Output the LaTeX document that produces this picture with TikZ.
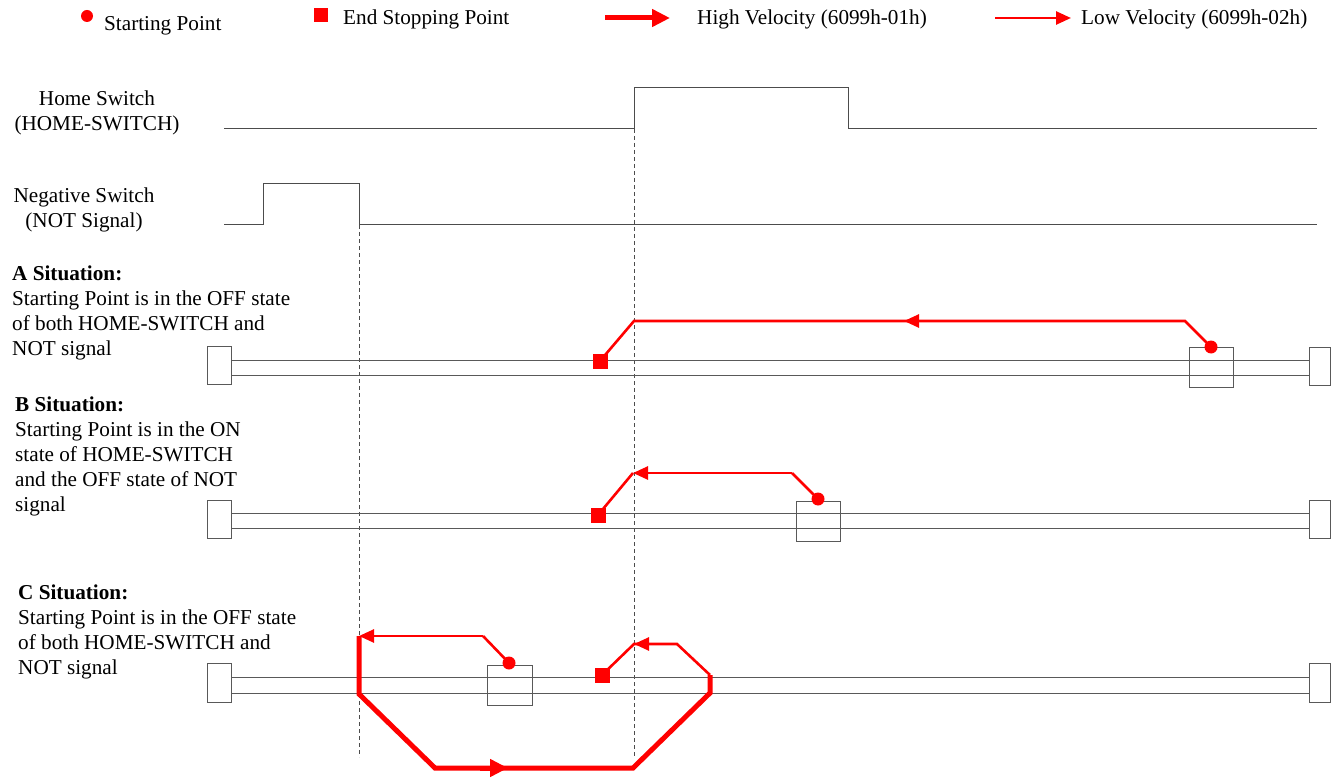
\documentclass[tikz,border=0pt]{standalone}
\usepackage{fontspec}
\setmainfont{Liberation Serif}
\usetikzlibrary{arrows.meta}
\begin{document}
\begin{tikzpicture}[x=1pt,y=-1pt,
  txt/.style={font=\fontsize{21.2}{25}\selectfont, inner sep=0pt, anchor=base west, align=left},
  lbl/.style={font=\fontsize{21.2}{25.5}\selectfont, inner sep=0pt, align=center},
  sig/.style={draw=black!70, line width=1pt},
  rail/.style={draw=black!65, line width=1pt},
  railbox/.style={draw=black!65, line width=1pt, fill=white},
  guide/.style={draw=black!70, line width=0.8pt, dash pattern=on 4pt off 3pt},
  low/.style={draw=red, line width=2.6pt},
  high/.style={draw=red, line width=5pt},
  lowtip/.style={-{Triangle[length=15pt,width=13pt]}},
  hightip/.style={-{Triangle[length=18pt,width=17pt]}},
  startdot/.style={circle, fill=red, inner sep=0pt, minimum size=13pt},
  endsq/.style={rectangle, fill=red, inner sep=0pt, minimum size=15pt},
]
\useasboundingbox (0,0) rectangle (1341,778);

% ---------- legend ----------
\node[startdot, minimum size=12pt] (lgdot) at (87,16) {};
\node[txt] (lgdott) at (104,31) {Starting Point};
\node[endsq, minimum size=14pt] (lgsq) at (321,15) {};
\node[txt] (lgsqt) at (343,25) {End Stopping Point};
\coordinate (lgh1) at (605,18); \coordinate (lgh2) at (670,18);
\draw[high,hightip] (lgh1) -- (lgh2);
\node[txt] (lght) at (697,25) {High Velocity (6099h-01h)};
\coordinate (lgl1) at (995,18); \coordinate (lgl2) at (1071,18);
\draw[low,lowtip] (lgl1) -- (lgl2);
\node[txt] (lglt) at (1081,25) {Low Velocity (6099h-02h)};

% ---------- signals ----------
\node[lbl] (homel) at (97,113) {Home Switch\\(HOME-SWITCH)};
\coordinate (h0) at (224,129); \coordinate (h1) at (634,129); \coordinate (h2) at (634,88);
\coordinate (h3) at (848,88); \coordinate (h4) at (848,129); \coordinate (h5) at (1317,129);
\draw[sig] (h0) -- (h1) -- (h2) -- (h3) -- (h4) -- (h5);

\node[lbl] (negl) at (84,210) {Negative Switch\\(NOT Signal)};
\coordinate (n0) at (224,225); \coordinate (n1) at (263,225); \coordinate (n2) at (263,184);
\coordinate (n3) at (359,184); \coordinate (n4) at (359,225); \coordinate (n5) at (1317,225);
\draw[sig] (n0) -- (n1) -- (n2) -- (n3) -- (n4) -- (n5);

% ---------- guides ----------
\coordinate (g1b) at (359,757); \coordinate (g2b) at (634,757);
\draw[guide] (n4) -- (g1b);
\draw[guide] (h1) -- (g2b);

% ---------- A situation ----------
\node[txt] (At) at (12,355) {\textbf{A Situation:}\\Starting Point is in the OFF state\\of both HOME-SWITCH and\\NOT signal};
\coordinate (Ar1a) at (231,360); \coordinate (Ar1b) at (1309,360);
\coordinate (Ar2a) at (231,375); \coordinate (Ar2b) at (1309,375);
\draw[rail] (Ar1a) -- (Ar1b); \draw[rail] (Ar2a) -- (Ar2b);
\draw[railbox] (207,346) rectangle (231,384);
\draw[railbox] (1309,347) rectangle (1330,385);
\draw[rail] (1189,347) rectangle (1233,387);
\node[startdot] (Adot) at (1211,347) {};
\node[endsq] (Asq) at (600,361) {};
\coordinate (A1) at (1185,321); \coordinate (Am) at (904,321); \coordinate (Amb) at (930,321);
\coordinate (A2) at (634,321);
\draw[low] (Adot.center) -- (A1) -- (A2) -- (Asq.center);
\draw[low,lowtip] (Amb) -- (Am);

% ---------- B situation ----------
\node[txt] (Bt) at (15,511) {\textbf{B Situation:}\\Starting Point is in the ON\\state of HOME-SWITCH\\and the OFF state of NOT\\signal};
\coordinate (Br1a) at (231,513); \coordinate (Br1b) at (1309,513);
\coordinate (Br2a) at (231,528); \coordinate (Br2b) at (1309,528);
\draw[rail] (Br1a) -- (Br1b); \draw[rail] (Br2a) -- (Br2b);
\draw[railbox] (207,500) rectangle (231,538);
\draw[railbox] (1309,500) rectangle (1330,538);
\draw[rail] (796,501) rectangle (840,541);
\node[startdot] (Bdot) at (818,499) {};
\node[endsq] (Bsq) at (598,515) {};
\coordinate (B1) at (792,473); \coordinate (B2) at (633,473);
\draw[low] (Bdot.center) -- (B1);
\draw[low,lowtip] (B1) -- (B2);
\draw[low] (B2) -- (Bsq.center);

% ---------- C situation ----------
\node[txt] (Ct) at (18,674) {\textbf{C Situation:}\\Starting Point is in the OFF state\\of both HOME-SWITCH and\\NOT signal};
\coordinate (Cr1a) at (231,677); \coordinate (Cr1b) at (1309,677);
\coordinate (Cr2a) at (231,693); \coordinate (Cr2b) at (1309,693);
\draw[rail] (Cr1a) -- (Cr1b); \draw[rail] (Cr2a) -- (Cr2b);
\draw[railbox] (207,663) rectangle (231,702);
\draw[railbox] (1309,663) rectangle (1330,702);
\draw[rail] (487,665) rectangle (532,705);
\node[startdot] (Cdot) at (509,663) {};
\node[endsq] (Csq) at (602,675) {};
\coordinate (C1) at (483,636); \coordinate (C2) at (359,636);
\draw[low] (Cdot.center) -- (C1);
\draw[low,lowtip] (C1) -- (C2);
\coordinate (C3) at (359,694); \coordinate (C4) at (435,768); \coordinate (Cm) at (508,768);
\coordinate (Cmb) at (480,768);
\coordinate (C5) at (633,768); \coordinate (C6) at (710,693); \coordinate (C7) at (710,675);
\draw[high] (C2) -- (C3) -- (C4) -- (C5) -- (C6) -- (C7);
\draw[high,hightip] (Cmb) -- (Cm);
\coordinate (C8) at (677,644); \coordinate (C9) at (634,644); \coordinate (C9b) at (660,644);
\draw[low] (C7) -- (C8) -- (C9) -- (Csq.center);
\draw[low,lowtip] (C9b) -- (C9);
\end{tikzpicture}
\end{document}
